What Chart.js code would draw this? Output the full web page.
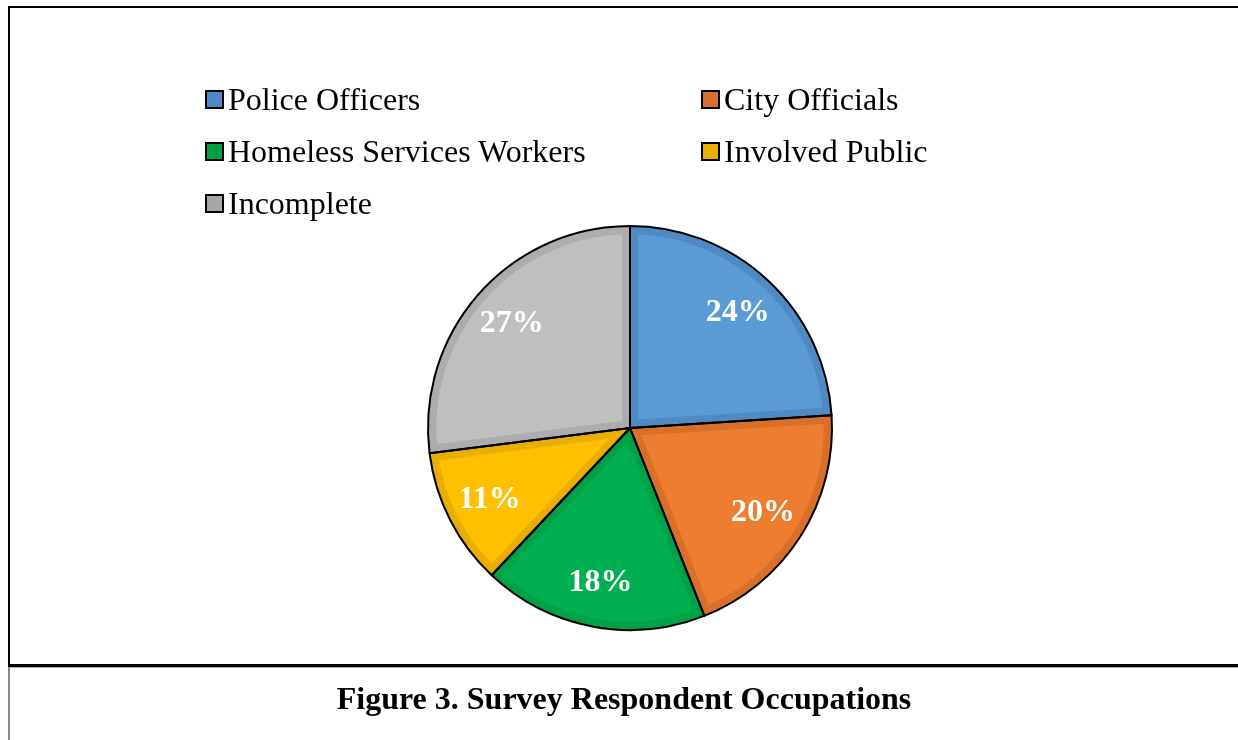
<!DOCTYPE html>
<html>
<head>
<meta charset="utf-8">
<script src="https://cdn.jsdelivr.net/npm/chart.js@4/dist/chart.umd.min.js"></script>
<style>
    body { margin: 0; background: #fff; font-family: "Liberation Serif", "Times New Roman", serif; }
    #page { position: relative; width: 1238px; height: 740px; overflow: hidden; }
    #chartBox { position: absolute; left: 0; top: 0; width: 1238px; height: 740px; }
    .frame { position: absolute; background: #000; }
    #legend { position: absolute; left: 205px; top: 81px; font-size: 32px; color: #000; }
    .item { position: absolute; white-space: nowrap; display: flex; align-items: center; height: 36px; }
    .box { width: 15px; height: 15px; border: 2px solid #000; margin-right: 4px; }
    #title { position: absolute; left: 0; width: 1248px; top: 680px; text-align: center; font-weight: bold; font-size: 32px; }
</style>
</head>
<body>
<div id="page">
    <div class="frame" style="left:8px; top:6px; width:1230px; height:2px;"></div>
    <div class="frame" style="left:8px; top:6px; width:2px; height:660px;"></div>
    <div class="frame" style="left:8px; top:664px; width:1230px; height:3px;"></div>
    <div class="frame" style="left:8px; top:667px; width:1230px; height:1px; background:#aaa;"></div>
    <div class="frame" style="left:8px; top:667px; width:2px; height:73px; background:#888;"></div>
    <div id="chartBox"><canvas id="chart"></canvas></div>
    <div id="legend"></div>
    <div id="title">Figure 3. Survey Respondent Occupations</div>
</div>
<script>
const occupations = ['Police Officers', 'City Officials', 'Homeless Services Workers', 'Involved Public', 'Incomplete'];
const shares = [24, 20, 18, 11, 27];
const sliceColors = ['#5B9BD5', '#ED7D31', '#00B050', '#FFC000', '#BFBFBF'];
const edgeColors = ['#4F8BC2', '#D8702A', '#00A245', '#E8AE00', '#ADADAD'];
const legendColors = ['#4E88C4', '#DB6F2E', '#00A040', '#E8B100', '#A6A6A6'];

// legend: two columns, built from the same arrays
const legend = document.getElementById('legend');
occupations.forEach(function (name, i) {
    const item = document.createElement('div');
    item.className = 'item';
    item.style.left = (i % 2) * 496 + 'px';
    item.style.top = Math.floor(i / 2) * 52 + 'px';
    item.innerHTML = '<div class="box" style="background:' + legendColors[i] + '"></div>' + name;
    legend.appendChild(item);
});

// black outline round every slice, then the white percent labels
const outlineAndLabels = {
    id: 'outlineAndLabels',
    afterDatasetsDraw(chart) {
        const ctx = chart.ctx;
        const meta = chart.getDatasetMeta(0);
        ctx.save();
        meta.data.forEach(function (arc, i) {
            const p = arc.getProps(['x', 'y', 'startAngle', 'endAngle', 'outerRadius']);
            ctx.beginPath();
            ctx.moveTo(p.x, p.y);
            ctx.arc(p.x, p.y, p.outerRadius, p.startAngle, p.endAngle);
            ctx.closePath();
            ctx.strokeStyle = '#000';
            ctx.lineWidth = 2;
            ctx.lineJoin = 'round';
            ctx.stroke();
        });
        meta.data.forEach(function (arc, i) {
            const p = arc.getProps(['x', 'y', 'startAngle', 'endAngle', 'outerRadius']);
            const mid = (p.startAngle + p.endAngle) / 2;
            const d = p.outerRadius * 0.78;
            ctx.fillStyle = '#fff';
            ctx.font = 'bold 32px "Liberation Serif", serif';
            ctx.textAlign = 'center';
            ctx.textBaseline = 'middle';
            ctx.fillText(shares[i] + '%', p.x + Math.cos(mid) * d, p.y + Math.sin(mid) * d);
        });
        ctx.restore();
    }
};

const ctx = document.getElementById('chart').getContext('2d');
new Chart(ctx, {
    type: 'pie',
    data: {
        labels: occupations,
        datasets: [{
            data: shares,
            backgroundColor: sliceColors,
            borderColor: edgeColors,
            borderWidth: 8,
            borderAlign: 'inner'
        }]
    },
    options: {
        responsive: true,
        maintainAspectRatio: false,
        animation: false,
        layout: { padding: { left: 428, right: 406, top: 226, bottom: 110 } },
        plugins: {
            legend: { display: false },
            tooltip: { enabled: false }
        }
    },
    plugins: [outlineAndLabels]
});
</script>
</body>
</html>
